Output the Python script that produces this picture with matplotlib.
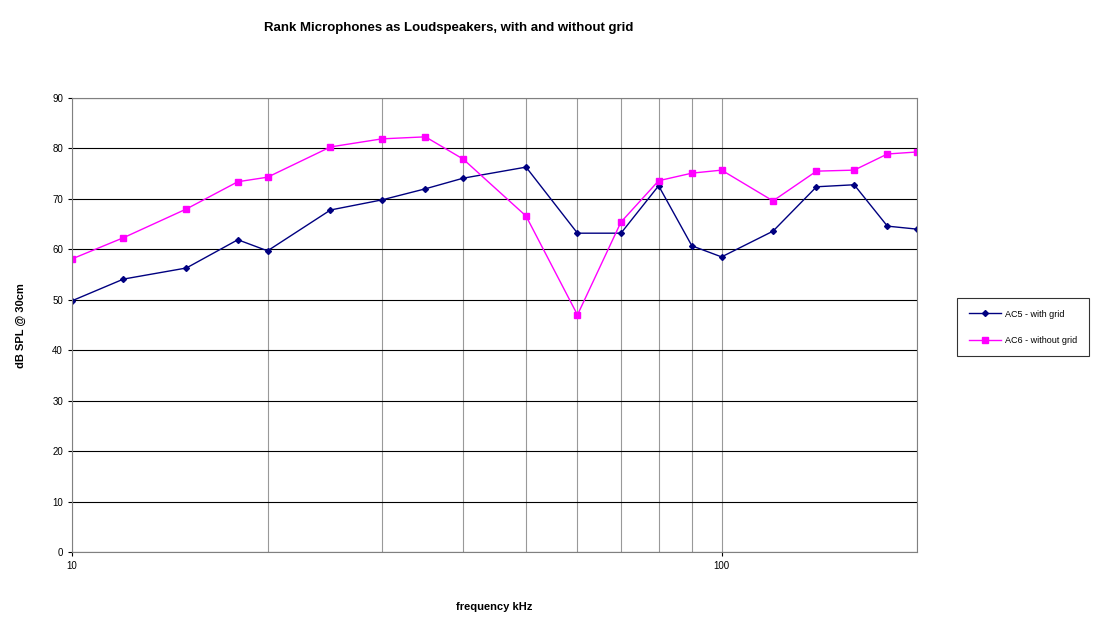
import matplotlib
matplotlib.use("Agg")
import matplotlib.pyplot as plt
from matplotlib.ticker import FixedLocator, NullFormatter

freq = [10, 12, 15, 18, 20, 25, 30, 35, 40, 50, 60, 70, 80, 90, 100, 120, 140, 160, 180, 200]
ac5 = [49.8, 54.1, 56.3, 61.9, 59.7, 67.8, 69.8, 72.0, 74.1, 76.3, 63.2, 63.2, 72.6, 60.7, 58.5, 63.6, 72.4, 72.8, 64.6, 64.0]
ac6 = [58.1, 62.3, 68.0, 73.4, 74.3, 80.3, 81.9, 82.3, 77.9, 66.6, 47.0, 65.4, 73.6, 75.1, 75.7, 69.6, 75.5, 75.7, 78.9, 79.3]

plt.rcParams['font.family'] = ['Liberation Sans', 'DejaVu Sans']
fig = plt.figure(figsize=(11.13, 6.31), dpi=100)
ax = fig.add_axes([0.0647, 0.1252, 0.7593, 0.7195])
ax.set_xscale('log')
ax.set_xlim(10, 200)
ax.set_ylim(0, 90)
ax.set_yticks(range(0, 91, 10))
ax.xaxis.set_major_locator(FixedLocator([10, 100]))
ax.xaxis.set_minor_locator(FixedLocator([20, 30, 40, 50, 60, 70, 80, 90, 200]))
ax.xaxis.set_minor_formatter(NullFormatter())
ax.set_xticklabels(['10', '100'])
ax.grid(True, which='major', axis='y', color='black', lw=0.8)
ax.grid(True, which='both', axis='x', color='#999999', lw=0.8)
ax.set_axisbelow(True)
for s in ax.spines.values():
    s.set_color('#808080')
ax.tick_params(labelsize=7, length=3)
ax.tick_params(which='minor', length=0)

ax.plot(freq, ac5, color='#000080', marker='D', ms=3, lw=1, label='AC5 - with grid')
ax.plot(freq, ac6, color='#FF00FF', marker='s', ms=4.5, lw=1, label='AC6 - without grid')

ax.set_xlabel('frequency kHz', fontsize=8, fontweight='bold', labelpad=22)
fig.text(0.019, 0.4845, 'dB SPL @ 30cm', rotation=90, ha='center', va='center',
         fontsize=8, fontweight='bold')
fig.text(0.403, 0.955, 'Rank Microphones as Loudspeakers, with and without grid',
         ha='center', va='center', fontsize=9.5, fontweight='bold')
leg = fig.legend(loc='center', bbox_to_anchor=(0.9195, 0.4815), fontsize=6.5,
                 frameon=True, fancybox=False, borderpad=1.3, labelspacing=1.9,
                 handlelength=3.5, handletextpad=0.5, borderaxespad=0)
leg.get_frame().set_edgecolor('black')
leg.get_frame().set_linewidth(0.8)
fig.canvas.draw()
bb = leg.get_window_extent()
# widen legend box to reference width
leg._legend_box.set_width  # no-op reference
fig.savefig('out.png', dpi=100)
